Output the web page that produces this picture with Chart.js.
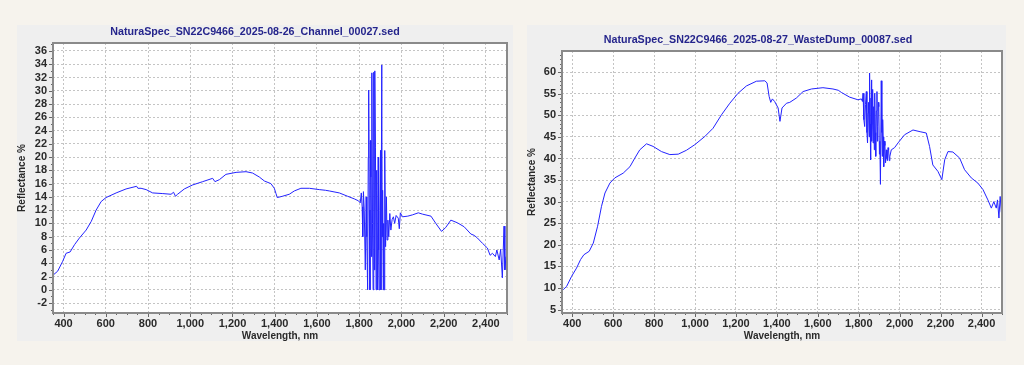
<!DOCTYPE html>
<html>
<head>
<meta charset="utf-8">
<script src="https://cdn.jsdelivr.net/npm/chart.js@4.4.1/dist/chart.umd.min.js"></script>
<style>
    body { margin: 0; width: 1024px; height: 365px; background: #f6f3ed; position: relative; overflow: hidden; }
    .panel { position: absolute; background: #efefef; }
    #leftPanel { left: 17px; top: 25px; width: 496px; height: 316px; }
    #rightPanel { left: 527px; top: 25px; width: 479px; height: 316px; }
    canvas { display: block; }
</style>
</head>
<body>
<div class="panel" id="leftPanel"><canvas id="channelChart" width="496" height="316"></canvas></div>
<div class="panel" id="rightPanel"><canvas id="wasteDumpChart" width="479" height="316"></canvas></div>
<script>
// NaturaSpec_..._Channel_00027.sed
const channelWavelengths = [
    350, 372, 396, 412, 431, 452, 475, 507, 531, 554, 578, 601, 649, 696, 746, 752, 767, 791, 822, 870,
    909, 921, 930, 940, 972, 1011, 1059, 1106, 1117, 1138, 1169, 1217, 1264, 1295, 1327, 1351, 1382, 1398, 1406, 1412,
    1437, 1469, 1493, 1524, 1564, 1611, 1640, 1658, 1706, 1745, 1777, 1797, 1805, 1810, 1814, 1817, 1820, 1824, 1829, 1833,
    1836, 1840, 1843, 1845, 1848, 1851, 1853, 1855, 1858, 1860, 1863, 1866, 1868, 1870, 1872, 1874, 1877, 1880, 1882, 1884,
    1887, 1890, 1892, 1894, 1898, 1901, 1903, 1907, 1909, 1911, 1914, 1916, 1918, 1920, 1922, 1925, 1929, 1932, 1936, 1940,
    1945, 1950, 1956, 1962, 1968, 1975, 1985, 1990, 1995, 2005, 2030, 2053, 2080, 2100, 2140, 2163, 2190, 2210, 2234, 2265,
    2297, 2329, 2345, 2360, 2384, 2407, 2420, 2431, 2445, 2452, 2463, 2470, 2478, 2486, 2490, 2495
];
const channelReflectance = [
    2.2, 2.8, 4.3, 5.5, 5.7, 6.8, 7.8, 9.0, 10.3, 12.0, 13.3, 13.9, 14.6, 15.2, 15.6, 15.3, 15.3, 15.1, 14.6, 14.5,
    14.4, 14.7, 14.1, 14.4, 15.2, 15.8, 16.3, 16.8, 16.3, 16.6, 17.4, 17.7, 17.8, 17.6, 17.0, 16.4, 16.0, 15.3, 14.5, 13.9,
    14.1, 14.4, 14.9, 15.3, 15.3, 15.1, 15.0, 14.9, 14.6, 14.1, 13.7, 13.4, 13.1, 14.6, 12.5, 8.0, 14.8, 12.0, 3.0, 14.0,
    8.0, 0, 20.0, 30.1, 12.0, 0, 22.5, 17, 5.0, 32.7, 10, 0, 20.5, 32.8, 3.0, 33.0, 21.5, 0, 18.0, 15,
    0, 20, 6.0, 0, 12, 21.0, 0, 33.9, 8.0, 15, 0, 10.0, 0, 14.0, 21.0, 6.5, 14.0, 7.5, 10.5, 8.0,
    11.5, 9.0, 10.6, 11.0, 10.0, 11.2, 10.8, 9.2, 11.6, 11.0, 11.1, 11.3, 11.6, 11.4, 11.1, 10.0, 8.8, 9.4, 10.5, 10.1,
    9.5, 8.4, 8.2, 7.8, 7.0, 6.3, 5.2, 5.5, 5.0, 6.0, 4.5, 6.1, 1.8, 9.6, 3.0, 5.0
];

// NaturaSpec_..._WasteDump_00087.sed
const wasteWavelengths = [
    356, 373, 397, 421, 441, 457, 483, 503, 524, 543, 560, 584, 608, 649, 682, 706, 730, 763, 795, 836,
    877, 918, 958, 999, 1048, 1088, 1129, 1170, 1210, 1251, 1300, 1341, 1352, 1362, 1370, 1378, 1389, 1406, 1415, 1425,
    1447, 1463, 1495, 1528, 1569, 1625, 1674, 1700, 1715, 1756, 1796, 1813, 1818, 1821, 1825, 1829, 1833, 1837, 1840, 1843,
    1846, 1848, 1851, 1853, 1856, 1858, 1860, 1862, 1864, 1866, 1868, 1870, 1872, 1874, 1876, 1878, 1881, 1883, 1886, 1889,
    1891, 1893, 1896, 1898, 1901, 1903, 1906, 1910, 1913, 1915, 1917, 1919, 1921, 1923, 1926, 1928, 1931, 1935, 1938, 1940,
    1943, 1946, 1949, 1952, 1959, 1975, 1992, 2024, 2065, 2100, 2130, 2146, 2162, 2187, 2206, 2220, 2236, 2260, 2293, 2317,
    2350, 2382, 2407, 2431, 2448, 2460, 2472, 2478, 2485, 2491, 2497
];
const wasteReflectance = [
    9.6, 10.4, 12.7, 14.6, 16.6, 17.7, 18.5, 20.4, 24.3, 28.9, 32.0, 34.3, 35.5, 36.6, 38.1, 40.1, 42.0, 43.4, 42.8, 41.6,
    40.9, 41.0, 41.9, 43.2, 45.1, 47.0, 50.1, 52.8, 55.1, 56.8, 57.9, 58.0, 57.5, 54.4, 53.0, 53.8, 53.2, 51.7, 48.6, 51.7,
    52.8, 53.0, 54.0, 55.5, 56.1, 56.4, 56.1, 55.8, 55.3, 54.2, 53.6, 53.8, 53.2, 55.1, 49.0, 47.4, 52.5, 55.5, 46.0, 43.6,
    50.5, 53.0, 45.0, 59.8, 48.0, 39.7, 54.0, 58.2, 44.0, 48, 56.0, 43.6, 50.0, 52, 42.0, 55.1, 46.0, 40.5, 51.0, 55.5,
    44.0, 47.4, 53.0, 52, 41.0, 44, 34.0, 58.0, 46, 40.5, 49.0, 45, 41.0, 38.1, 44.0, 43, 39.0, 42.0, 40.0, 39.5,
    42.5, 42, 39.5, 40.5, 42.0, 42.5, 43.6, 45.5, 46.6, 46.2, 45.9, 42.8, 38.5, 37.0, 35.1, 39.7, 41.6, 41.5, 40.1, 37.4,
    35.5, 34.3, 32.8, 30.4, 28.5, 30.0, 28.5, 30.4, 26.2, 31.2, 27.5
];

const tickFont = { family: "'Liberation Sans', Arial, sans-serif", size: 11, weight: "bold" };
const titleFont = { family: "'Liberation Sans', Arial, sans-serif", size: 10, weight: "bold", lineHeight: 1 };

// white plot area, frame, small outside ticks and the file name on top
const framePlugin = {
    id: "frame",
    beforeDraw(chart) {
        const { ctx, chartArea: a } = chart;
        ctx.save();
        ctx.fillStyle = "#ffffff";
        ctx.fillRect(a.left, a.top, a.width, a.height);
        ctx.restore();
    },
    afterDraw(chart, args, opts) {
        const { ctx, chartArea: a, scales } = chart;
        const xs = scales.x, ys = scales.y;
        ctx.save();
        ctx.strokeStyle = "#666";
        ctx.lineWidth = 1;
        for (let v = Math.ceil(xs.min / opts.xMinor) * opts.xMinor; v <= xs.max; v += opts.xMinor) {
            const px = Math.round(xs.getPixelForValue(v)) + 0.5;
            const len = v % opts.xMajor === 0 ? 4 : 2;
            ctx.beginPath();
            ctx.moveTo(px, a.bottom);
            ctx.lineTo(px, a.bottom + len);
            ctx.stroke();
        }
        for (let v = Math.ceil(ys.min / opts.yMinor) * opts.yMinor; v <= ys.max; v += opts.yMinor) {
            const py = Math.round(ys.getPixelForValue(v)) + 0.5;
            const len = v % opts.yMajor === 0 ? 4 : 2;
            ctx.beginPath();
            ctx.moveTo(a.left, py);
            ctx.lineTo(a.left - len, py);
            ctx.stroke();
        }
        ctx.strokeStyle = "#8a8a8a";
        ctx.lineWidth = 2;
        ctx.strokeRect(a.left, a.top, a.width, a.height);

        ctx.font = "bold 10.7px 'Liberation Sans', Arial, sans-serif";
        ctx.fillStyle = "#25258c";
        ctx.textAlign = "center";
        ctx.textBaseline = "middle";
        ctx.fillText(opts.text, opts.x, opts.y);
        ctx.restore();
    }
};

function makeSpectrumChart(canvasId, wavelengths, reflectance, setup) {
    const points = wavelengths.map((w, i) => ({ x: w, y: reflectance[i] }));
    return new Chart(canvasId, {
        type: "line",
        data: {
            datasets: [{
                data: points,
                borderColor: "#2323ff",
                borderWidth: 1,
                pointRadius: 0,
                tension: 0,
                fill: false
            }]
        },
        options: {
            responsive: false,
            animation: false,
            layout: { padding: { left: 0, right: setup.padRight, top: setup.padTop, bottom: 0 } },
            plugins: {
                legend: { display: false },
                tooltip: { enabled: false },
                frame: setup.frame
            },
            scales: {
                x: {
                    type: "linear",
                    min: 350,
                    max: 2500,
                    afterFit(scale) { scale.height = setup.xHeight; },
                    ticks: { stepSize: 200, includeBounds: false, autoSkip: false, color: "#2a2a2a", font: tickFont, padding: 4, maxRotation: 0 },
                    grid: { color: "#c4c4c4", lineWidth: 1, drawTicks: false },
                    border: { display: false, dash: [2, 2] },
                    title: { display: true, text: "Wavelength, nm", color: "#2a2a2a", font: titleFont, padding: { top: 0, bottom: 0 } }
                },
                y: {
                    min: setup.yMin,
                    max: setup.yMax,
                    afterFit(scale) { scale.width = setup.yWidth; },
                    ticks: { stepSize: setup.yStep, includeBounds: false, autoSkip: false, color: "#2a2a2a", font: tickFont, padding: 6 },
                    grid: { color: "#c4c4c4", lineWidth: 1, drawTicks: false },
                    border: { display: false, dash: [2, 2] },
                    title: { display: true, text: "Reflectance %", color: "#2a2a2a", font: titleFont, padding: { top: 0, bottom: 0 } }
                }
            }
        },
        plugins: [framePlugin]
    });
}

makeSpectrumChart("channelChart", channelWavelengths, channelReflectance, {
    yMin: -3.5, yMax: 37.2, yStep: 2,
    yWidth: 36, xHeight: 28, padRight: 6, padTop: 18,
    frame: { text: "NaturaSpec_SN22C9466_2025-08-26_Channel_00027.sed", x: 238, y: 7, xMinor: 50, xMajor: 200, yMinor: 1, yMajor: 2 }
});

makeSpectrumChart("wasteDumpChart", wasteWavelengths, wasteReflectance, {
    yMin: 4.2, yMax: 64.9, yStep: 5,
    yWidth: 35, xHeight: 28, padRight: 4, padTop: 26,
    frame: { text: "NaturaSpec_SN22C9466_2025-08-27_WasteDump_00087.sed", x: 231, y: 15, xMinor: 50, xMajor: 200, yMinor: 1, yMajor: 5 }
});
</script>
</body>
</html>
